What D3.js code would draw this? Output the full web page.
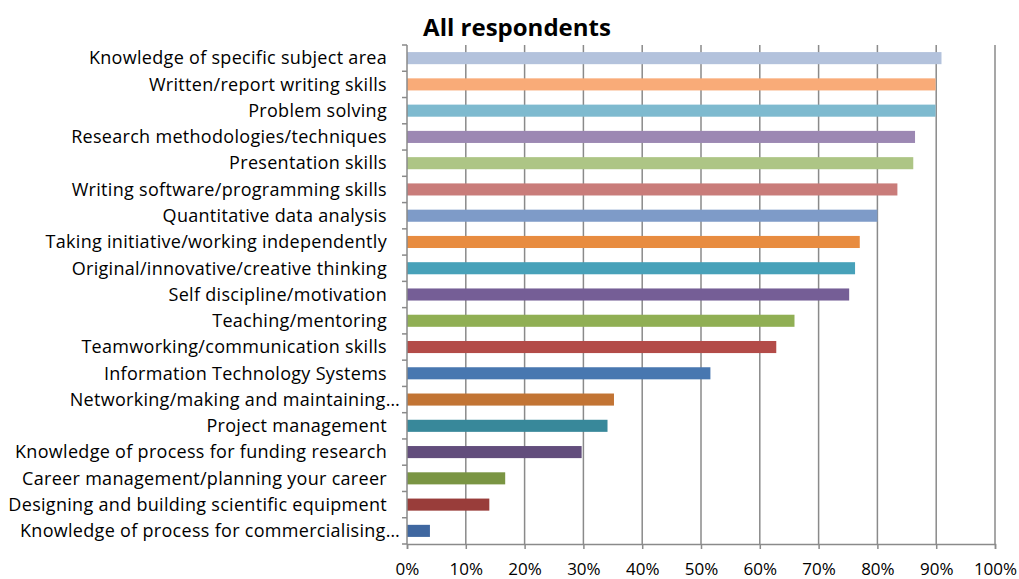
<!DOCTYPE html>
<html>
<head>
<meta charset="utf-8">
<script src="https://cdn.jsdelivr.net/npm/d3@7"></script>
<style>
  body { margin: 0; background: #fff; }
  svg text { font-family: "Open Sans", "Noto Sans", sans-serif; fill: #000; }
</style>
</head>
<body>
<div id="chart"></div>
<script>
// données
var skills = [
  "Knowledge of specific subject area",
  "Written/report writing skills",
  "Problem solving",
  "Research methodologies/techniques",
  "Presentation skills",
  "Writing software/programming skills",
  "Quantitative data analysis",
  "Taking initiative/working independently",
  "Original/innovative/creative thinking",
  "Self discipline/motivation",
  "Teaching/mentoring",
  "Teamworking/communication skills",
  "Information Technology Systems",
  "Networking/making and maintaining…",
  "Project management",
  "Knowledge of process for funding research",
  "Career management/planning your career",
  "Designing and building scientific equipment",
  "Knowledge of process for commercialising…"
];
var shares = [0.909, 0.899, 0.899, 0.864, 0.861, 0.834, 0.800, 0.770, 0.762, 0.752,
              0.659, 0.628, 0.516, 0.352, 0.341, 0.297, 0.167, 0.140, 0.039];
var barColors = ["#B3C2DC", "#F9AB78", "#7EBACF", "#9C88B3", "#ADC585", "#C97C7A",
                 "#7E9BC8", "#E88C40", "#47A1B9", "#755E96", "#90AF54", "#B34B48",
                 "#4877B0", "#C27434", "#38889A", "#624D7C", "#7A9543", "#993D3A", "#3F67A0"];
var xTicks = [0, 0.1, 0.2, 0.3, 0.4, 0.5, 0.6, 0.7, 0.8, 0.9, 1];

var data = skills.map(function(s, i) { return {skill: s, value: shares[i], color: barColors[i]}; });

var margin = {top: 45, right: 24, bottom: 35, left: 407},
    width = 1019 - margin.left - margin.right,
    height = 579 - margin.top - margin.bottom;

var svg = d3.select("#chart").append("svg")
    .attr("width", 1019)
    .attr("height", 579);

var g = svg.append("g")
    .attr("transform", "translate(" + margin.left + "," + margin.top + ")");

var x = d3.scaleLinear().domain([0, 1]).range([0, width]);
var y = d3.scaleBand().domain(skills).range([0, height]).paddingInner(0.54).paddingOuter(0.27);

// grille verticale
g.selectAll(".grid")
  .data(xTicks.slice(1))
  .enter().append("line")
  .attr("class", "grid")
  .attr("x1", function(d) { return x(d); })
  .attr("x2", function(d) { return x(d); })
  .attr("y1", 0)
  .attr("y2", height)
  .attr("stroke", "#8a8a8a")
  .attr("stroke-width", 1.5);

// barres
g.selectAll(".bar")
  .data(data)
  .enter().append("rect")
  .attr("class", "bar")
  .attr("x", 0)
  .attr("y", function(d) { return y(d.skill); })
  .attr("width", function(d) { return x(d.value); })
  .attr("height", y.bandwidth())
  .attr("fill", function(d) { return d.color; });

// axe des x
var xAxis = g.append("g")
  .attr("transform", "translate(0," + height + ")")
  .call(d3.axisBottom(x).tickValues(xTicks).tickFormat(d3.format(".0%")).tickSize(5).tickPadding(14));
xAxis.select(".domain").attr("stroke", "#8a8a8a").attr("stroke-width", 1.5);
xAxis.selectAll(".tick line").attr("stroke", "#8a8a8a").attr("stroke-width", 1.5);
xAxis.selectAll("text").style("font-size", "17px").attr("font-family", null);

// axe des y : traits entre les catégories
var yAxis = g.append("g");
yAxis.append("line")
  .attr("x1", 0).attr("x2", 0)
  .attr("y1", 0).attr("y2", height)
  .attr("stroke", "#8a8a8a").attr("stroke-width", 1.5);
var step = y.step();
yAxis.selectAll(".ytick")
  .data(d3.range(skills.length + 1))
  .enter().append("line")
  .attr("class", "ytick")
  .attr("x1", -5).attr("x2", 0)
  .attr("y1", function(i) { return i * step; })
  .attr("y2", function(i) { return i * step; })
  .attr("stroke", "#8a8a8a").attr("stroke-width", 1.5);

// les libellés tronqués débordent un peu plus vers l'axe
yAxis.selectAll(".ylabel")
  .data(data)
  .enter().append("text")
  .attr("class", "ylabel")
  .attr("x", function(d) { return d.skill.slice(-1) === "…" ? -7 : -20; })
  .attr("y", function(d) { return y(d.skill) + y.bandwidth() / 2; })
  .attr("dy", "0.35em")
  .attr("text-anchor", "end")
  .style("font-size", "18px")
  .style("letter-spacing", "0.3px")
  .text(function(d) { return d.skill; });

// titre
svg.append("text")
  .attr("x", 517)
  .attr("y", 36)
  .attr("text-anchor", "middle")
  .style("font-size", "24px")
  .style("font-weight", "bold")
  .text("All respondents");
</script>
</body>
</html>
